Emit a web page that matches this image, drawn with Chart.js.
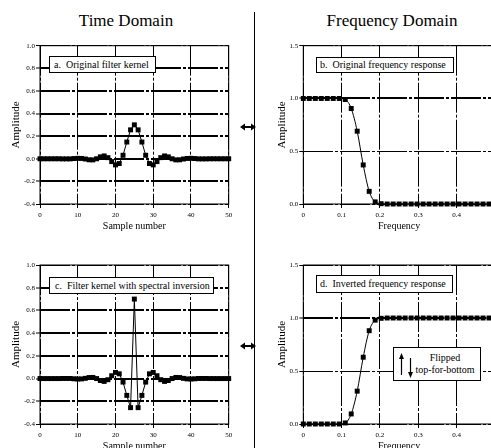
<!DOCTYPE html>
<html>
<head>
<meta charset="utf-8">
<script src="https://cdn.jsdelivr.net/npm/chart.js@4"></script>
<style>
body { margin:0; width:491px; height:448px; overflow:hidden; background:#fff; position:relative; font-family:'Liberation Serif', serif; color:#000; }
canvas { position:absolute; }
.head { position:absolute; top:11px; width:200px; text-align:center; font-size:17px; line-height:20px; }
.box { position:absolute; box-sizing:border-box; border:1px solid #000; background:#fff; font-size:10px; white-space:nowrap; z-index:2; }
.over { position:absolute; z-index:3; }
</style>
</head>
<body>
<div class="head" style="left:26px">Time Domain</div>
<div class="head" style="left:292px">Frequency Domain</div>
<div class="over" style="left:254px; top:12px; width:1px; height:436px; background:#000"></div>

<canvas id="chartA" width="245" height="199" style="left:0; top:36px"></canvas>
<canvas id="chartB" width="256" height="199" style="left:255px; top:36px"></canvas>
<canvas id="chartC" width="245" height="200" style="left:0; top:255px"></canvas>
<canvas id="chartD" width="256" height="200" style="left:255px; top:255px"></canvas>

<div class="box" style="left:49px; top:56px; width:107px; height:17px; line-height:15px; padding-left:4px">a.&nbsp;&nbsp;Original filter kernel</div>
<div class="box" style="left:316px; top:57px; width:138px; height:16px; line-height:14px; padding-left:3px">b.&nbsp;&nbsp;Original frequency response</div>
<div class="box" style="left:49px; top:277px; width:165px; height:17px; line-height:15px; padding-left:5px">c.&nbsp;&nbsp;Filter kernel with spectral inversion</div>
<div class="box" style="left:316px; top:275px; width:137px; height:18px; line-height:16px; padding-left:3px">d.&nbsp;&nbsp;Inverted frequency response</div>
<div class="box" style="left:393px; top:347px; width:88px; height:34px">
  <svg width="30" height="34" style="position:absolute; left:0; top:-1px">
    <line x1="7.5" y1="10" x2="7.5" y2="28" stroke="#000" stroke-width="1.2"/>
    <polygon points="7.5,6 5,12 10,12" fill="#000"/>
    <line x1="16.5" y1="11" x2="16.5" y2="27" stroke="#000" stroke-width="1.2"/>
    <polygon points="16.5,31 14,25 19,25" fill="#000"/>
  </svg>
  <div style="position:absolute; left:16px; right:0; top:4px; text-align:center; line-height:11.6px">Flipped<br>top-for-bottom</div>
</div>

<svg class="over" width="16" height="10" style="left:240px; top:122px">
  <line x1="3" y1="5" x2="13" y2="5" stroke="#000" stroke-width="2"/>
  <polygon points="0,5 5,1.5 5,8.5" fill="#000"/>
  <polygon points="16,5 11,1.5 11,8.5" fill="#000"/>
</svg>
<svg class="over" width="16" height="10" style="left:240px; top:341px">
  <line x1="3" y1="5" x2="13" y2="5" stroke="#000" stroke-width="2"/>
  <polygon points="0,5 5,1.5 5,8.5" fill="#000"/>
  <polygon points="16,5 11,1.5 11,8.5" fill="#000"/>
</svg>

<script>
// sample numbers of the 51 point filter kernel
const samples = [0,1,2,3,4,5,6,7,8,9,10,11,12,13,14,15,16,17,18,19,20,21,22,23,24,25,
  26,27,28,29,30,31,32,33,34,35,36,37,38,39,40,41,42,43,44,45,46,47,48,49,50];

// a. original filter kernel
const kernelOriginal = [0,0,0,0,0,0,-0.001,-0.001,-0.001,0.002,0.004,0.003,-0.002,-0.009,-0.010,0,
  0.017,0.025,0.010,-0.025,-0.054,-0.042,0.031,0.148,0.256,0.300,0.256,0.148,0.031,-0.042,-0.054,
  -0.025,0.010,0.025,0.017,0,-0.010,-0.009,-0.002,0.003,0.004,0.002,-0.001,-0.001,-0.001,0,0,0,0,0,0];

// c. kernel after spectral inversion
const kernelInverted = [0,0,0,0,0,0,0.001,0.001,0.001,-0.002,-0.004,-0.003,0.002,0.009,0.010,0,
  -0.017,-0.025,-0.010,0.025,0.054,0.042,-0.031,-0.148,-0.256,0.700,-0.256,-0.148,-0.031,0.042,0.054,
  0.025,-0.010,-0.025,-0.017,0,0.010,0.009,0.002,-0.003,-0.004,-0.002,0.001,0.001,0.001,0,0,0,0,0,0];

// frequency axis (fraction of sampling rate)
const freqs = [0,0.0156,0.0313,0.0469,0.0625,0.0781,0.0938,0.1094,0.125,0.1406,0.1563,0.1719,
  0.1875,0.2031,0.2188,0.2344,0.25,0.2656,0.2813,0.2969,0.3125,0.3281,0.3438,0.3594,0.375,
  0.3906,0.4063,0.4219,0.4375,0.4531,0.4688,0.4844,0.5];

// b. original frequency response
const responseOriginal = [1,1,1,1,1,1,1,0.99,0.905,0.69,0.37,0.12,0.02,0.003,0,0,0,0,0,0,0,0,0,0,0,0,0,0,0,0,0,0,0];

// d. inverted frequency response
const responseInverted = [0,0,0,0,0,0,0,0.01,0.095,0.31,0.63,0.88,0.98,0.997,1,1,1,1,1,1,1,1,1,1,1,1,1,1,1,1,1,1,1];

const timeTicks = [0,10,20,30,40,50];
const freqTicks = [0,0.1,0.2,0.3,0.4,0.5];

Chart.defaults.font.family = "'Liberation Serif', serif";
Chart.defaults.color = '#000';

// box round the plot area
const frame = {
  id: 'frame',
  beforeDatasetsDraw(chart) {
    const {ctx, chartArea: a} = chart;
    ctx.save();
    ctx.strokeStyle = '#000';
    ctx.lineWidth = 1;
    ctx.strokeRect(a.left, a.top, a.right - a.left, a.bottom - a.top);
    ctx.restore();
  }
};

const dash = [30, 2, 3, 2];
const fmt1 = v => Math.abs(v) < 1e-9 ? '0.0' : v.toFixed(1);

function series(xs, ys, smooth) {
  return [{
    data: xs.map((x, i) => ({x: x, y: ys[i]})),
    borderColor: '#000',
    borderWidth: 1,
    pointStyle: 'rect',
    pointRadius: 3.5,
    pointBackgroundColor: '#000',
    pointBorderWidth: 0,
    tension: 0,
    cubicInterpolationMode: smooth ? 'monotone' : 'default',
    clip: false
  }];
}

function timeConfig(values, padTop) {
  return {
    type: 'line',
    data: { datasets: series(samples, values, false) },
    options: {
      responsive: false, animation: false, events: [],
      layout: { padding: { left: 0, top: padTop, right: 16.3, bottom: 0 } },
      plugins: { legend: { display: false }, tooltip: { enabled: false } },
      scales: {
        x: {
          type: 'linear', min: 0, max: 50,
          afterFit: s => { s.height = 31; },
          afterBuildTicks: s => { s.ticks = timeTicks.map(v => ({value: v})); },
          ticks: { padding: 3, font: { size: 7 }, maxRotation: 0, autoSkip: false },
          grid: { color: '#000', lineWidth: 1, tickLength: 4, tickColor: '#000', tickWidth: 1 },
          border: { display: false, dash: dash },
          title: { display: true, text: 'Sample number', font: { size: 10 }, padding: { top: 0, bottom: 3 } }
        },
        y: {
          type: 'linear', min: -0.4, max: 1.0,
          afterFit: s => { s.width = 40; },
          ticks: { stepSize: 0.2, padding: 1, font: { size: 7 }, callback: fmt1 },
          grid: { color: '#000', tickLength: 4, tickColor: '#000', tickWidth: 1,
                  lineWidth: c => (c.tick && (c.tick.value <= -0.39 || c.tick.value >= 0.99)) ? 1 : 2 },
          border: { display: false, dash: dash },
          title: { display: true, text: 'Amplitude', font: { size: 11 }, padding: { top: 10, bottom: 0 } }
        }
      }
    },
    plugins: [frame]
  };
}

function freqConfig(values, padTop) {
  return {
    type: 'line',
    data: { datasets: series(freqs, values, true) },
    options: {
      responsive: false, animation: false, events: [],
      layout: { padding: { left: 0, top: padTop, right: 16, bottom: 0 } },
      plugins: { legend: { display: false }, tooltip: { enabled: false } },
      scales: {
        x: {
          type: 'linear', min: 0, max: 0.5,
          afterFit: s => { s.height = 31; },
          afterBuildTicks: s => { s.ticks = freqTicks.map(v => ({value: v})); },
          ticks: { padding: 3, font: { size: 7 }, maxRotation: 0, autoSkip: false,
                   callback: v => v === 0 ? '0' : v.toFixed(1) },
          grid: { color: '#000', lineWidth: 1, tickLength: 4, tickColor: '#000', tickWidth: 1 },
          border: { display: false, dash: dash },
          title: { display: true, text: 'Frequency', font: { size: 10 }, padding: { top: 0, bottom: 3 } }
        },
        y: {
          type: 'linear', min: 0, max: 1.5,
          afterFit: s => { s.width = 48.3; },
          ticks: { stepSize: 0.5, padding: 1, font: { size: 7 }, callback: fmt1 },
          grid: { color: '#000', tickLength: 4, tickColor: '#000', tickWidth: 1,
                  lineWidth: c => (c.tick && Math.abs(c.tick.value - 1) < 1e-9) ? 2 : 1 },
          border: { display: false, dash: dash },
          title: { display: true, text: 'Amplitude', font: { size: 11 }, padding: { top: 20.4, bottom: 0 } }
        }
      }
    },
    plugins: [frame]
  };
}

const chartA = new Chart(document.getElementById('chartA'), timeConfig(kernelOriginal, 9.7));
const chartB = new Chart(document.getElementById('chartB'), freqConfig(responseOriginal, 9.7));
const chartC = new Chart(document.getElementById('chartC'), timeConfig(kernelInverted, 10));
const chartD = new Chart(document.getElementById('chartD'), freqConfig(responseInverted, 10));
</script>
</body>
</html>
